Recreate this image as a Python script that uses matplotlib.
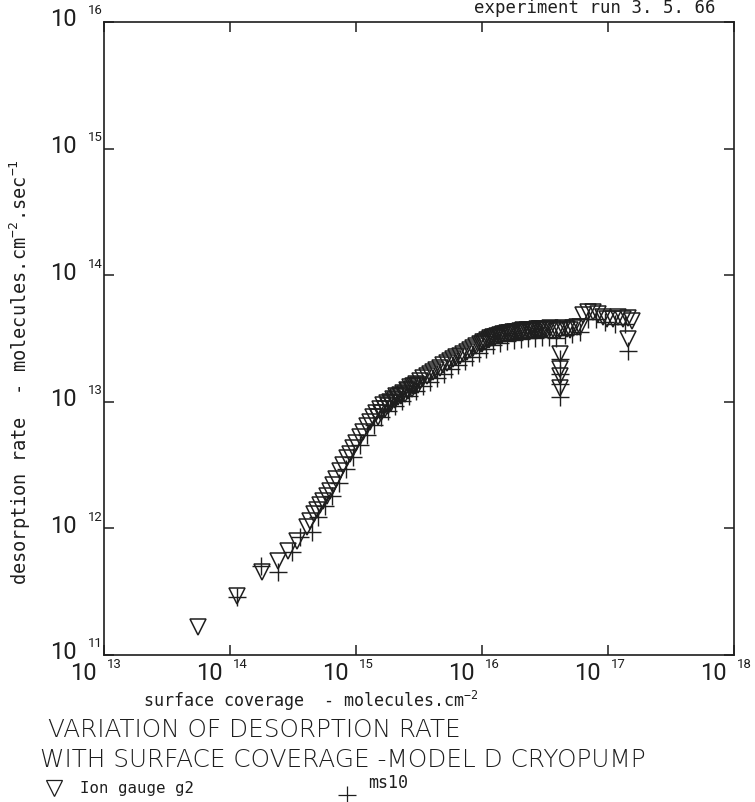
import matplotlib
matplotlib.use("Agg")
import matplotlib.pyplot as plt
from matplotlib.lines import Line2D
from matplotlib.transforms import offset_copy

# ---------------- data ----------------
# ion gauge g2 (triangles)
g2_coverage = [5.57e13, 1.14e14, 1.79e14, 2.40e14, 2.88e14, 3.40e14, 4.08e14, 4.32e14,
               4.64e14, 4.90e14, 5.18e14, 5.47e14, 5.89e14, 6.22e14, 6.57e14, 6.94e14,
               7.46e14, 7.89e14, 8.49e14, 8.96e14, 9.46e14, 1.00e15, 1.08e15, 1.14e15,
               1.22e15, 1.29e15, 1.36e15, 1.44e15, 1.55e15, 1.64e15, 1.76e15, 1.86e15,
               1.97e15, 2.08e15, 2.23e15, 2.36e15, 2.54e15, 2.68e15, 2.83e15, 2.99e15,
               3.22e15, 3.40e15, 3.66e15, 3.87e15, 4.08e15, 4.31e15, 4.64e15, 4.90e15,
               5.27e15, 5.57e15, 5.89e15, 6.22e15, 6.68e15, 7.06e15, 7.60e15, 8.04e15,
               8.49e15, 8.96e15, 9.64e15, 1.02e16, 1.10e16, 1.16e16, 1.22e16, 1.32e16,
               1.39e16, 1.47e16, 1.58e16, 1.67e16, 1.76e16, 1.90e16, 2.00e16, 2.11e16,
               2.28e16, 2.40e16, 2.54e16, 2.73e16, 2.88e16, 3.05e16, 3.28e16, 3.47e16,
               3.66e16, 3.94e16, 4.16e16, 4.40e16, 4.73e16, 4.99e16, 5.27e16, 5.68e16,
               6.00e16, 6.34e16, 6.93e16, 7.60e16, 8.34e16, 9.12e16, 9.82e16, 1.10e17,
               1.20e17, 1.32e17, 1.44e17, 1.55e17,
               4.16e16, 4.16e16, 4.16e16, 4.16e16, 1.44e17,
               1.50e15, 1.58e15, 1.70e15, 1.79e15, 1.90e15, 2.04e15, 2.15e15, 2.28e15,
               2.45e15, 2.59e15, 2.78e15, 2.94e15, 3.10e15,
               1.00e16, 1.06e16, 1.14e16, 1.20e16, 1.27e16, 1.36e16, 1.44e16, 1.52e16,
               1.64e16, 1.73e16, 1.83e16, 1.97e16, 2.08e16, 2.19e16, 2.36e16, 2.49e16,
               2.64e16, 2.83e16, 2.99e16, 3.16e16]
g2_rate = [1.66e11, 2.92e11, 4.53e11, 5.53e11, 6.63e11, 7.95e11, 1.03e12, 1.14e12,
           1.30e12, 1.40e12, 1.53e12, 1.65e12, 1.80e12, 1.97e12, 2.20e12, 2.46e12,
           2.84e12, 3.17e12, 3.60e12, 3.87e12, 4.32e12, 4.73e12, 5.27e12, 5.77e12,
           6.44e12, 6.92e12, 7.59e12, 8.16e12, 8.77e12, 9.44e12, 9.79e12, 9.96e12,
           1.05e13, 1.11e13, 1.13e13, 1.17e13, 1.24e13, 1.31e13, 1.33e13, 1.38e13,
           1.46e13, 1.54e13, 1.60e13, 1.66e13, 1.72e13, 1.78e13, 1.85e13, 1.95e13,
           2.02e13, 2.10e13, 2.18e13, 2.26e13, 2.30e13, 2.39e13, 2.47e13, 2.57e13,
           2.66e13, 2.76e13, 2.86e13, 2.97e13, 3.08e13, 3.19e13, 3.25e13, 3.31e13,
           3.37e13, 3.43e13, 3.49e13, 3.49e13, 3.56e13, 3.56e13, 3.62e13, 3.69e13,
           3.69e13, 3.62e13, 3.69e13, 3.76e13, 3.76e13, 3.69e13, 3.76e13, 3.83e13,
           3.76e13, 3.62e13, 3.69e13, 3.83e13, 3.76e13, 3.69e13, 3.83e13, 3.90e13,
           3.90e13, 4.85e13, 5.12e13, 5.12e13, 4.94e13, 4.68e13, 4.51e13, 4.51e13,
           4.68e13, 4.51e13, 4.59e13, 4.35e13,
           2.39e13, 1.82e13, 1.60e13, 1.29e13, 3.13e13,
           7.59e12, 8.16e12, 8.77e12, 9.27e12, 9.79e12, 1.03e13, 1.09e13, 1.11e13,
           1.15e13, 1.22e13, 1.26e13, 1.33e13, 1.36e13,
           2.86e13, 2.97e13, 3.08e13, 3.19e13, 3.25e13, 3.31e13, 3.37e13, 3.43e13,
           3.49e13, 3.49e13, 3.56e13, 3.56e13, 3.62e13, 3.62e13, 3.69e13, 3.69e13,
           3.69e13, 3.76e13, 3.76e13, 3.76e13]

# ms10 (plus signs)
ms10_coverage = [1.14e14, 1.76e14, 2.40e14, 3.10e14, 3.59e14, 4.48e14, 4.99e14, 5.68e14,
                 6.45e14, 7.33e14, 8.33e14, 9.46e14, 1.08e15, 1.22e15, 1.39e15, 1.58e15,
                 1.79e15, 2.04e15, 2.32e15, 2.64e15, 2.99e15, 3.40e15, 3.87e15, 4.39e15,
                 4.99e15, 5.68e15, 6.45e15, 7.33e15, 8.33e15, 9.46e15, 1.08e16, 1.22e16,
                 1.39e16, 1.58e16, 1.79e16, 2.04e16, 2.32e16, 2.64e16, 2.99e16, 3.40e16,
                 3.87e16, 4.16e16, 4.16e16, 4.16e16, 4.16e16, 4.56e16, 5.18e16, 6.00e16,
                 6.93e16, 8.03e16, 9.46e16, 1.14e17, 1.36e17, 1.44e17]
ms10_rate = [2.87e11, 5.05e11, 4.53e11, 6.51e11, 8.55e11, 9.37e11, 1.23e12, 1.50e12,
             1.80e12, 2.28e12, 2.94e12, 3.66e12, 4.56e12, 5.47e12, 6.56e12, 7.59e12,
             8.46e12, 9.27e12, 1.01e13, 1.11e13, 1.22e13, 1.33e13, 1.43e13, 1.54e13,
             1.66e13, 1.82e13, 1.95e13, 2.10e13, 2.26e13, 2.43e13, 2.61e13, 2.81e13,
             2.91e13, 3.02e13, 3.08e13, 3.13e13, 3.19e13, 3.19e13, 3.25e13, 3.25e13,
             3.19e13, 2.18e13, 1.66e13, 1.38e13, 1.09e13, 3.37e13, 3.43e13, 3.56e13,
             4.51e13, 4.51e13, 4.27e13, 4.12e13, 4.12e13, 2.52e13]

x_tick_exponents = [13, 14, 15, 16, 17, 18]
y_tick_exponents = [11, 12, 13, 14, 15, 16]

header_text = "experiment run 3. 5. 66"
x_label = "surface coverage  - molecules.cm$^{-2}$"
y_label = "desorption rate  - molecules.cm$^{-2}$.sec$^{-1}$"
title_lines = ["VARIATION OF DESORPTION RATE",
               "WITH SURFACE COVERAGE -MODEL D CRYOPUMP"]
legend_labels = ["Ion gauge g2", "ms10"]

# ---------------- style ----------------
tick_font = ["Roboto", "DejaVu Sans"]
mono = ["DejaVu Sans Mono"]

plt.rcParams["mathtext.fontset"] = "custom"
plt.rcParams["mathtext.rm"] = "DejaVu Sans Mono"
plt.rcParams["mathtext.default"] = "regular"

INK = "#1e1e1e"
W, H = 755, 803
fig = plt.figure(figsize=(W / 100, H / 100), dpi=100)
fig.patch.set_facecolor("white")

L, R, T, B = 104, 734, 23, 656
ax = fig.add_axes([L / W, 1 - B / H, (R - L) / W, (B - T) / H])
ax.set_xscale("log")
ax.set_yscale("log")
ax.set_xlim(10.0 ** x_tick_exponents[0], 10.0 ** x_tick_exponents[-1])
ax.set_ylim(10.0 ** y_tick_exponents[0], 10.0 ** y_tick_exponents[-1])

ax.plot(g2_coverage, g2_rate, linestyle="none", marker="v", markersize=11.5,
        markerfacecolor="none", markeredgecolor=INK, markeredgewidth=1.1)
ax.plot(ms10_coverage, ms10_rate, linestyle="none", marker="+", markersize=13,
        markeredgecolor=INK, markeredgewidth=1.0)

for s in ax.spines.values():
    s.set_linewidth(1.2)
    s.set_color(INK)
ax.set_xticks([10.0 ** e for e in x_tick_exponents])
ax.set_yticks([10.0 ** e for e in y_tick_exponents])
ax.minorticks_off()
ax.tick_params(which="both", direction="in", top=True, right=True, length=7.2,
               width=1.1, color=INK, labelbottom=False, labelleft=False)

px = 0.72  # points per pixel at 100 dpi
xtr = ax.get_xaxis_transform()
ytr = ax.get_yaxis_transform()
for e in x_tick_exponents:
    v = 10.0 ** e
    ax.text(v, 0, "10", transform=offset_copy(xtr, fig=fig, x=-7 * px, y=-18 * px, units="points"),
            ha="right", va="center", fontsize=17, family=tick_font, color=INK)
    ax.text(v, 0, str(e), transform=offset_copy(xtr, fig=fig, x=3 * px, y=-8 * px, units="points"),
            ha="left", va="center", fontsize=9.5, family=tick_font, color=INK)
for e in y_tick_exponents:
    v = 10.0 ** e
    ax.text(0, v, "10", transform=offset_copy(ytr, fig=fig, x=-27 * px, y=3 * px, units="points"),
            ha="right", va="center", fontsize=17, family=tick_font, color=INK)
    ax.text(0, v, str(e), transform=offset_copy(ytr, fig=fig, x=-16 * px, y=12 * px, units="points"),
            ha="left", va="center", fontsize=9.5, family=tick_font, color=INK)

def fx(p):
    return p / W

def fy(p):
    return 1 - p / H

fig.text(fx(716), fy(8), header_text, ha="right", va="center", fontsize=12.5, family=mono, color=INK)
fig.text(fx(143), fy(707), x_label, ha="left", va="baseline", fontsize=12, family=mono, color=INK)
fig.text(fx(20), fy(372), y_label, ha="center", va="center", rotation=90, fontsize=13.4,
         family=mono, color=INK)
fig.text(fx(48), fy(737), title_lines[0], ha="left", va="baseline", fontsize=17.8,
         family=["DejaVu Sans"], fontweight="light", color=INK)
fig.text(fx(40), fy(767), title_lines[1], ha="left", va="baseline", fontsize=17.8,
         family=["DejaVu Sans"], fontweight="light", color=INK)

fig.add_artist(Line2D([fx(54)], [fy(789)], transform=fig.transFigure, linestyle="none",
                      marker="v", markersize=11, markerfacecolor="none",
                      markeredgecolor=INK, markeredgewidth=0.9))
fig.text(fx(80), fy(793), legend_labels[0], ha="left", va="baseline", fontsize=11.3,
         family=mono, color=INK)
fig.add_artist(Line2D([fx(347)], [fy(796)], transform=fig.transFigure, linestyle="none",
                      marker="+", markersize=13, markeredgecolor=INK, markeredgewidth=0.9))
fig.text(fx(368), fy(788), legend_labels[1], ha="left", va="baseline", fontsize=12,
         family=mono, color=INK)

fig.savefig("out.png", dpi=100)
